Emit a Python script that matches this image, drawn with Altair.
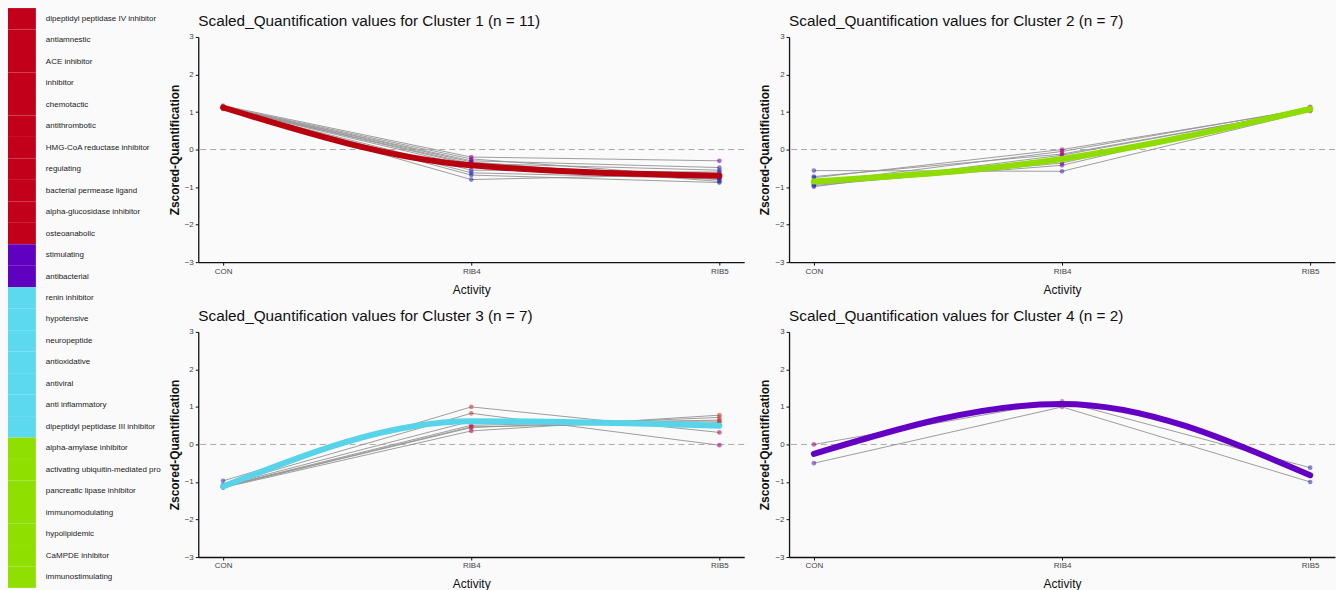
import altair as alt
import pandas as pd

activities = ["CON", "RIB4", "RIB5"]

# Legend (left) labels, top to bottom, and the cluster each belongs to
labels = [
    "dipeptidyl peptidase IV inhibitor", "antiamnestic", "ACE inhibitor", "inhibitor",
    "chemotactic", "antithrombotic", "HMG-CoA reductase inhibitor", "regulating",
    "bacterial permease ligand", "alpha-glucosidase inhibitor", "osteoanabolic",
    "stimulating", "antibacterial",
    "renin inhibitor", "hypotensive", "neuropeptide", "antioxidative", "antiviral",
    "anti inflammatory", "dipeptidyl peptidase III inhibitor",
    "alpha-amylase inhibitor", "activating ubiquitin-mediated pro",
    "pancreatic lipase inhibitor", "immunomodulating", "hypolipidemic",
    "CaMPDE inhibitor", "immunostimulating",
]
label_cluster = [1] * 11 + [4] * 2 + [3] * 7 + [2] * 7

cluster_ids = [1, 2, 3, 4]
cluster_colors = ["#b8000f", "#8edc00", "#58d4ea", "#6400c4"]
bar_colors = ["#c2001a", "#8fe000", "#5cd9ee", "#6000c0"]

# Cluster 1 (n = 11)
c1_con = [1.17, 1.15, 1.14, 1.13, 1.12, 1.12, 1.11, 1.10, 1.10, 1.09, 1.08]
c1_rib4 = [-0.20, -0.25, -0.30, -0.33, -0.37, -0.40, -0.45, -0.55, -0.62, -0.68, -0.80]
c1_rib5 = [-0.30, -0.75, -0.48, -0.85, -0.55, -0.70, -0.80, -0.60, -0.78, -0.88, -0.65]
c1_mean = [1.12, -0.42, -0.70]

# Cluster 2 (n = 7)
c2_con = [-0.56, -0.72, -0.75, -0.88, -0.93, -0.96, -0.99]
c2_rib4 = [-0.58, -0.12, 0.00, -0.05, -0.42, -0.36, -0.15]
c2_rib5 = [1.02, 1.05, 1.08, 1.10, 1.12, 1.14, 1.06]
c2_mean = [-0.85, -0.25, 1.08]

# Cluster 3 (n = 7)
c3_con = [-0.97, -1.08, -1.10, -1.12, -1.13, -1.14, -1.15]
c3_rib4 = [1.00, 0.83, 0.62, 0.51, 0.47, 0.45, 0.36]
c3_rib5 = [0.32, -0.02, 0.62, 0.65, 0.58, 0.72, 0.78]
c3_mean = [-1.12, 0.62, 0.50]

# Cluster 4 (n = 2)
c4_con = [0.00, -0.50]
c4_rib4 = [1.15, 1.00]
c4_rib5 = [-0.62, -1.00]
c4_mean = [-0.25, 1.08, -0.82]

FONT = "Liberation Sans"


def make_panel(k, con, rib4, rib5, mean):
    rows = []
    for i, (a, b, c) in enumerate(zip(con, rib4, rib5)):
        for act, v in zip(activities, (a, b, c)):
            rows.append({"id": i, "Activity": act, "value": v})
    df = pd.DataFrame(rows)
    mdf = pd.DataFrame({"Activity": activities, "value": mean})
    zdf = pd.DataFrame({"value": [0]})

    x = alt.X(
        "Activity:N", sort=activities,
        scale=alt.Scale(type="point", padding=0.1),
        axis=alt.Axis(title="Activity", labelAngle=0, labelFontSize=8, labelColor="#444",
                      titleFontSize=12, titleFontWeight="normal", titleColor="#111",
                      tickSize=3, labelPadding=2, titlePadding=9, domainColor="#111",
                      domainWidth=1.3, tickColor="#111", labelFont=FONT, titleFont=FONT),
    )
    y = alt.Y(
        "value:Q",
        scale=alt.Scale(domain=[-3, 3], nice=False, zero=False),
        axis=alt.Axis(title="Zscored-Quantification", values=[-3, -2, -1, 0, 1, 2, 3],
                      format="d", labelFontSize=8, labelColor="#444", titleFontSize=12,
                      titleFontWeight="bold", titleColor="#111", tickSize=3,
                      labelPadding=2, titlePadding=3, domainColor="#111", domainWidth=1.3,
                      tickColor="#111", grid=False, labelFont=FONT, titleFont=FONT),
    )

    zero = alt.Chart(zdf).mark_rule(color="#aaaaaa", strokeDash=[6, 4], strokeWidth=1).encode(
        y=y
    )
    lines = alt.Chart(df).mark_line(color="#939393", strokeWidth=0.9).encode(
        x=x, y=y, detail="id:N"
    )
    pts = alt.Chart(df).mark_circle(size=22, opacity=0.55).encode(
        x=x, y=y,
        color=alt.Color("value:Q", legend=None,
                        scale=alt.Scale(domain=[-0.6, 0.6], range=["#2828b0", "#c03838"], clamp=True)),
    )
    meanline = alt.Chart(mdf).mark_line(
        color=cluster_colors[k - 1], strokeWidth=6, interpolate="monotone", strokeCap="round"
    ).encode(x=x, y=y)

    n = len(con)
    title = alt.TitleParams(
        f"Scaled_Quantification values for Cluster {k}  (n = {n})",
        anchor="start", frame="group", fontSize=15.4, fontWeight="normal",
        font=FONT, color="#111", offset=4,
    )
    return alt.layer(zero, lines, pts, meanline).properties(
        width=548, height=226, title=title
    )


p1 = make_panel(1, c1_con, c1_rib4, c1_rib5, c1_mean)
p2 = make_panel(2, c2_con, c2_rib4, c2_rib5, c2_mean)
p3 = make_panel(3, c3_con, c3_rib4, c3_rib5, c3_mean)
p4 = make_panel(4, c4_con, c4_rib4, c4_rib5, c4_mean)

ldf = pd.DataFrame({"label": labels, "cluster": label_cluster})

ly = alt.Y("label:N", sort=labels, axis=None,
           scale=alt.Scale(paddingInner=0, paddingOuter=0, range=[-29, 553]))
bar = alt.Chart(ldf).mark_rect().encode(
    y=ly, x=alt.value(0), x2=alt.value(28),
    color=alt.Color("cluster:O", legend=None,
                    scale=alt.Scale(domain=cluster_ids, range=bar_colors)),
)
txt = alt.Chart(ldf).mark_text(
    align="left", baseline="middle", fontSize=8, font=FONT, color="#222"
).encode(y=ly, x=alt.value(38), text="label:N")
legend_panel = alt.layer(bar, txt).properties(width=160, height=553)

grid = alt.vconcat(
    alt.hconcat(p1, p2, spacing=13),
    alt.hconcat(p3, p4, spacing=13),
    spacing=13,
)

chart = alt.hconcat(legend_panel, grid, spacing=0).properties(
    padding={"left": 8, "top": 7, "right": 0, "bottom": 0},
    background="#fafafa",
).configure_view(stroke=None)

chart.save("out.html", embed_options={"renderer": "svg", "actions": False})
